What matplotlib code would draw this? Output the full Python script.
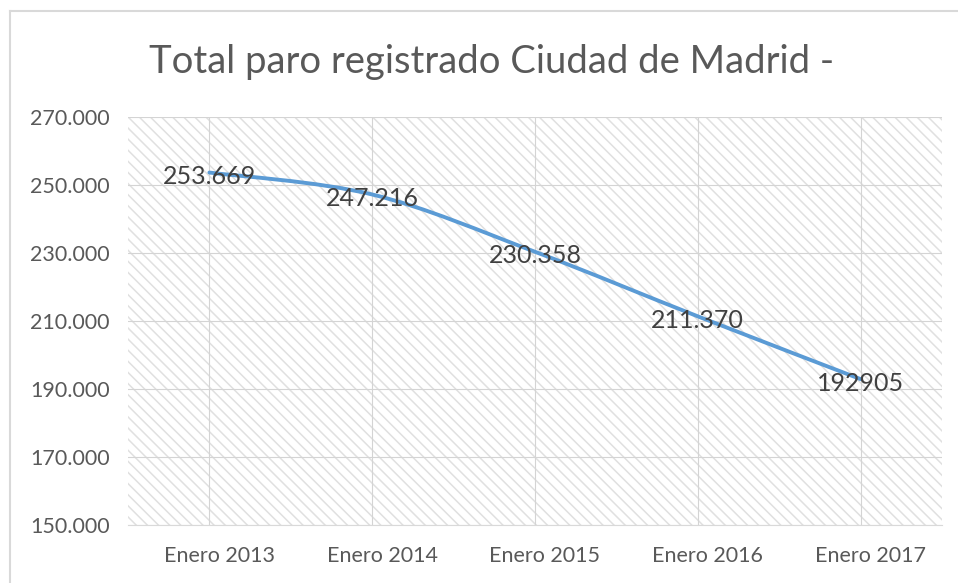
import matplotlib
matplotlib.use("Agg")
import matplotlib.pyplot as plt
from matplotlib.patches import Rectangle, PathPatch
from matplotlib.path import Path
from matplotlib.ticker import FuncFormatter
from matplotlib.transforms import ScaledTranslation
import matplotlib.lines as mlines

# Datos
categorias = ["Enero 2013", "Enero 2014", "Enero 2015", "Enero 2016", "Enero 2017"]
paro = [253669, 247216, 230358, 211370, 192905]
etiquetas = ["253.669", "247.216", "230.358", "211.370", "192905"]
y_ticks = [150000, 170000, 190000, 210000, 230000, 250000, 270000]

LINE_COLOR = "#5B9BD5"
GRID_COLOR = "#D9D9D9"
TEXT_COLOR = "#595959"
LABEL_COLOR = "#404040"

plt.rcParams['font.family'] = ['Lato', 'DejaVu Sans']
plt.rcParams['hatch.linewidth'] = 1.1

fig = plt.figure(figsize=(9.58, 5.83), dpi=100)
fig.patch.set_facecolor('white')
ax = fig.add_axes([0.1336, 0.0995, 0.8497, 0.6998])

# Fondo rayado del área de trazado
fondo = Rectangle((0, 0), 1, 1, transform=ax.transAxes, facecolor='white',
                  edgecolor='#E0E0E0', hatch='\\\\\\', linewidth=0, zorder=0)
ax.add_patch(fondo)
ax.set_facecolor('none')

x = list(range(len(categorias)))
ax.set_xlim(-0.5, len(categorias) - 0.5)
ax.set_ylim(y_ticks[0], y_ticks[-1])

# Rejilla
ax.set_yticks(y_ticks)
ax.set_xticks(x)
ax.grid(True, color='#D4D4D4', linewidth=0.8, zorder=1)
ax.set_axisbelow(True)

# Línea suavizada (Bezier a partir de los datos)
pts = list(zip(x, paro))
verts = [pts[0]]
codes = [Path.MOVETO]
for i in range(len(pts) - 1):
    p0 = pts[i - 1] if i > 0 else pts[i]
    p1 = pts[i]
    p2 = pts[i + 1]
    p3 = pts[i + 2] if i + 2 < len(pts) else pts[i + 1]
    c1 = (p1[0] + (p2[0] - p0[0]) / 6, p1[1] + (p2[1] - p0[1]) / 6)
    c2 = (p2[0] - (p3[0] - p1[0]) / 6, p2[1] - (p3[1] - p1[1]) / 6)
    verts += [c1, c2, p2]
    codes += [Path.CURVE4] * 3
linea = PathPatch(Path(verts, codes), facecolor='none', edgecolor=LINE_COLOR,
                  linewidth=2.8, capstyle='round', zorder=3)
ax.add_patch(linea)

# Etiquetas de datos
for xi, yi, txt in zip(x, paro, etiquetas):
    ax.annotate(txt, (xi, yi), xytext=(0, -3), textcoords='offset points',
                ha='center', va='center', fontsize=18, color=LABEL_COLOR, zorder=4)

# Ejes
for s in ['top', 'right', 'left']:
    ax.spines[s].set_visible(False)
ax.spines['bottom'].set_color(GRID_COLOR)
ax.spines['bottom'].set_linewidth(0.8)
ax.tick_params(axis='both', length=0, colors=TEXT_COLOR, labelsize=15.5)
ax.tick_params(axis='y', pad=13)
ax.tick_params(axis='x', pad=15)
ax.set_xticklabels(categorias)
ax.yaxis.set_major_formatter(FuncFormatter(lambda v, p: f"{v:,.0f}".replace(",", ".")))

# Desplazamiento ligero de las etiquetas de categoría (como en Excel)
desplaz = ScaledTranslation(10 / 100, 0, fig.dpi_scale_trans)
for lbl in ax.get_xticklabels():
    lbl.set_transform(lbl.get_transform() + desplaz)

# Título
fig.text(0.513, 0.893, "Total paro registrado Ciudad de Madrid -", ha='center',
         va='center', fontsize=27.5, color=TEXT_COLOR)

# Marco del gráfico
fig.add_artist(mlines.Line2D([0.0105, 1.0], [0.9817, 0.9817], transform=fig.transFigure,
                             color=GRID_COLOR, linewidth=1.5))
fig.add_artist(mlines.Line2D([0.0105, 0.0105], [0.0, 0.9817], transform=fig.transFigure,
                             color=GRID_COLOR, linewidth=1.5))

fig.savefig('out.png', dpi=100, facecolor='white')
